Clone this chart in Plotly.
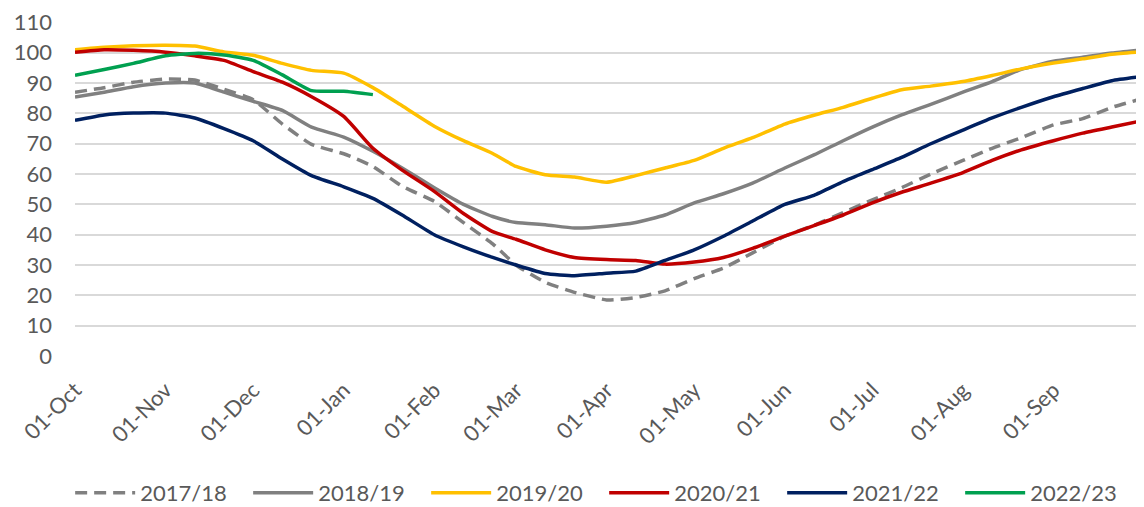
import plotly.graph_objects as go

dates = [
    "2017-10-01", "2017-10-11", "2017-10-21",
    "2017-11-01", "2017-11-11", "2017-11-21",
    "2017-12-01", "2017-12-11", "2017-12-21",
    "2018-01-01", "2018-01-11", "2018-01-21",
    "2018-02-01", "2018-02-11", "2018-02-21",
    "2018-03-01", "2018-03-11", "2018-03-21",
    "2018-04-01", "2018-04-11", "2018-04-21",
    "2018-05-01", "2018-05-11", "2018-05-21",
    "2018-06-01", "2018-06-11", "2018-06-21",
    "2018-07-01", "2018-07-11", "2018-07-21",
    "2018-08-01", "2018-08-11", "2018-08-21",
    "2018-09-01", "2018-09-11", "2018-09-21", "2018-09-30",
]

s2017_18 = [87.0, 88.5, 90.3, 91.3, 91.0, 88.0, 84.5, 76.5, 69.8, 66.7, 62.5, 56.0,
            51.0, 44.0, 37.0, 30.0, 24.3, 21.0, 18.5, 19.3, 21.5, 25.5, 29.0, 34.0,
            39.5, 43.1, 47.3, 51.5, 55.5, 60.0, 64.5, 68.5, 72.0, 76.2, 78.3, 82.0, 84.5]
s2018_19 = [85.4, 87.0, 88.8, 90.0, 90.0, 87.0, 84.0, 81.0, 75.5, 72.2, 67.5, 62.0,
            55.5, 50.0, 46.0, 44.0, 43.3, 42.2, 42.8, 44.0, 46.5, 50.5, 53.5, 57.0,
            62.0, 66.3, 71.0, 75.5, 79.5, 83.0, 87.0, 90.5, 94.5, 97.2, 98.5, 99.9, 100.8]
s2019_20 = [101.0, 101.8, 102.3, 102.5, 102.2, 100.3, 99.2, 96.5, 94.2, 93.3, 88.5, 82.5,
            75.8, 71.0, 66.8, 62.5, 59.8, 59.0, 57.3, 59.5, 62.0, 64.5, 68.5, 72.0,
            76.5, 79.4, 82.0, 85.0, 87.8, 89.0, 90.5, 92.5, 94.7, 96.6, 98.0, 99.5, 100.2]
s2020_21 = [100.2, 101.0, 100.8, 100.2, 99.0, 97.5, 93.8, 90.3, 85.5, 79.0, 68.5, 61.3,
            54.3, 47.0, 41.0, 38.5, 35.0, 32.5, 31.8, 31.5, 30.3, 31.0, 32.5, 35.5,
            39.5, 43.0, 46.5, 50.5, 54.0, 57.0, 60.5, 64.5, 68.0, 71.0, 73.5, 75.5, 77.3]
s2021_22 = [77.7, 79.5, 80.1, 80.1, 78.5, 75.0, 71.0, 65.0, 59.5, 55.8, 52.0, 46.5,
            40.0, 36.0, 32.5, 30.0, 27.2, 26.5, 27.3, 28.0, 31.5, 35.0, 39.5, 44.5,
            50.0, 53.0, 57.5, 61.5, 65.5, 70.0, 74.5, 78.5, 82.0, 85.5, 88.2, 90.8, 92.0]
s2022_23 = [92.6, 94.5, 96.5, 99.0, 99.8, 99.3, 97.5, 92.7, 87.5, 87.3, 86.2]

tick_vals = ["2017-10-01", "2017-11-01", "2017-12-01", "2018-01-01", "2018-02-01",
             "2018-03-01", "2018-04-01", "2018-05-01", "2018-06-01", "2018-07-01",
             "2018-08-01", "2018-09-01"]
tick_text = ["01-Oct", "01-Nov", "01-Dec", "01-Jan", "01-Feb", "01-Mar", "01-Apr",
             "01-May", "01-Jun", "01-Jul", "01-Aug", "01-Sep"]
y_ticks = [0, 10, 20, 30, 40, 50, 60, 70, 80, 90, 100, 110]

series = [
    ("2017/18", s2017_18, "#808080", "12px,7px"),
    ("2018/19", s2018_19, "#808080", "solid"),
    ("2019/20", s2019_20, "#FFC000", "solid"),
    ("2020/21", s2020_21, "#C00000", "solid"),
    ("2021/22", s2021_22, "#002060", "solid"),
    ("2022/23", s2022_23, "#00A050", "solid"),
]

FONT = "Lato, 'Open Sans', sans-serif"
fig = go.Figure()
for name, vals, color, dash in series:
    fig.add_trace(go.Scatter(
        x=dates[:len(vals)], y=vals, name=name, mode="lines",
        line=dict(color=color, width=3.5, dash=dash, shape="spline", smoothing=0.5),
    ))

# page body has an 8px default margin, so the figure is 8px smaller than the window
fig.update_layout(
    width=1136, height=499,
    margin=dict(l=67, r=0, t=14, b=151, autoexpand=False),
    paper_bgcolor="white", plot_bgcolor="white",
    font=dict(family=FONT, size=22, color="#595959"),
    showlegend=True,
    legend=dict(orientation="h", x=0.495, xref="paper", xanchor="center",
                y=-0.41, yanchor="middle",
                font=dict(size=22, color="#595959"),
                entrywidth=103, entrywidthmode="pixels", itemwidth=60,
                tracegroupgap=0),
    xaxis=dict(type="date", range=["2017-10-01", "2018-10-02"], automargin=False,
               tickvals=tick_vals, ticktext=tick_text, tickangle=-45,
               showgrid=False, zeroline=False, showline=False, ticks="",
               ticklabelstandoff=16),
    yaxis=dict(range=[0, 110.15], tickmode="array", tickvals=y_ticks,
               showgrid=True, automargin=False,
               gridcolor="#D9D9D9", gridwidth=1.5, zeroline=False,
               showline=False, ticks="", ticklabelstandoff=22),
)
fig.write_html("out.html")
